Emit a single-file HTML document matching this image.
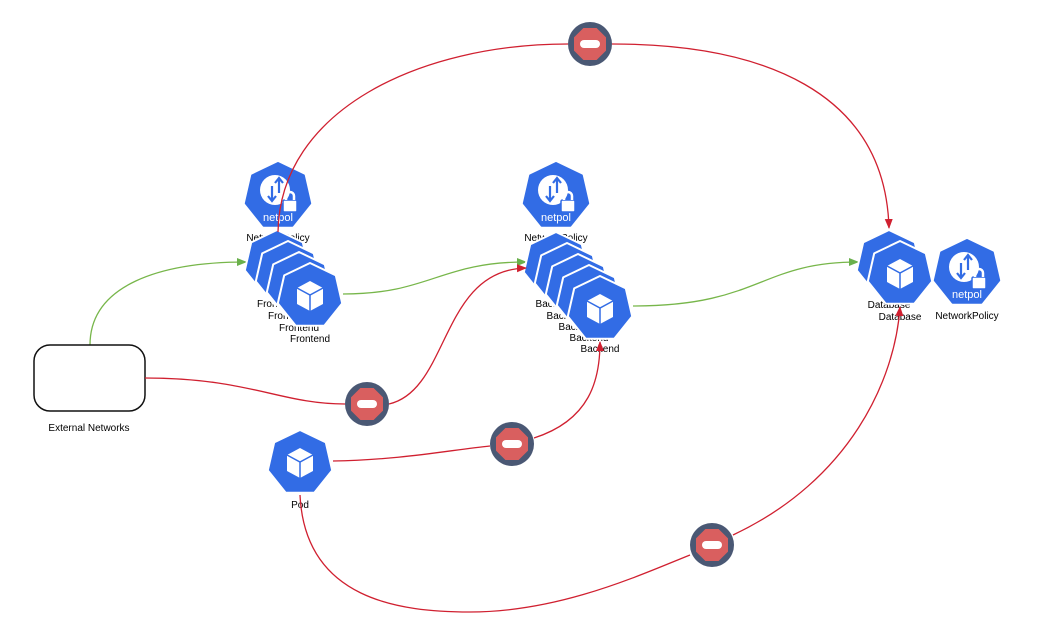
<!DOCTYPE html>
<html><head><meta charset="utf-8"><style>
html,body{margin:0;padding:0;background:#fff;}
svg{display:block;font-family:"Liberation Sans",sans-serif;}
</style></head><body>
<svg width="1040" height="636" viewBox="0 0 1040 636" xmlns="http://www.w3.org/2000/svg">
<defs>
<path id="hex" d="M0,-33 L25.8,-20.6 L32.2,7.4 L14.3,29.7 L-14.3,29.7 L-32.2,7.4 L-25.8,-20.6 Z"/>
<g id="pod">
<use href="#hex" fill="#326ce5" stroke="#fff" stroke-width="2" stroke-linejoin="round"/>
<path d="M0,-15 L13,-8 L13,8 L0,15 L-13,8 L-13,-8 Z" fill="#fff"/>
<path d="M-13,-8 L0,-1 L13,-8 M0,-1 L0,15" stroke="#326ce5" stroke-width="1.5" fill="none"/>
</g>
<g id="np">
<use href="#hex" fill="#326ce5" stroke="#326ce5" stroke-width="2" stroke-linejoin="round"/>
<circle cx="-3" cy="-6" r="15" fill="#fff"/>
<path d="M1,-17 L1,-3 M-3,-13 L1,-18 L5,-13" stroke="#326ce5" stroke-width="2.2" fill="none"/>
<path d="M-6,-10 L-6,4 M-10,0 L-6,5 L-2,0" stroke="#326ce5" stroke-width="2.2" fill="none"/>
<rect x="5" y="4" width="14" height="12" rx="1.5" fill="#fff" stroke="#326ce5" stroke-width="1.5"/>
<path d="M8,4 L8,0 A4,4 0 0 1 16,0 L16,4" stroke="#fff" stroke-width="2.5" fill="none"/>
<text x="0" y="25" fill="#fff" font-size="11" text-anchor="middle">netpol</text>
</g>
<g id="blk">
<circle r="22" fill="#4a5874"/>
<path d="M-6.6,-16 L6.6,-16 L16,-6.6 L16,6.6 L6.6,16 L-6.6,16 L-16,6.6 L-16,-6.6 Z" fill="#d95f5f"/>
<rect x="-10" y="-4" width="20" height="8" rx="4" fill="#fff"/>
</g>
<marker id="ar" markerWidth="10" markerHeight="10" refX="9" refY="5" orient="auto" markerUnits="userSpaceOnUse"><path d="M0,1 L10,5 L0,9 Z" fill="#d02030"/></marker>
<marker id="ag" markerWidth="10" markerHeight="10" refX="9" refY="5" orient="auto" markerUnits="userSpaceOnUse"><path d="M0,1 L10,5 L0,9 Z" fill="#6ab04c"/></marker>
</defs>

<g fill="none" stroke="#77b64a" stroke-width="1.3">
<path d="M90,345 C90,285 160,262 246,262" marker-end="url(#ag)"/>
<path d="M343,294 C430,294 440,262 526,262" marker-end="url(#ag)"/>
<path d="M633,306 C760,306 760,262 858,262" marker-end="url(#ag)"/>
</g>

<rect x="34" y="345" width="111" height="66" rx="16" fill="#fff" stroke="#111" stroke-width="1.5"/>
<text x="89" y="431" font-size="10" text-anchor="middle">External Networks</text>

<use href="#np" x="278" y="196"/>
<text x="278" y="241" font-size="10" text-anchor="middle">NetworkPolicy</text>
<use href="#np" x="556" y="196"/>
<text x="556" y="241" font-size="10" text-anchor="middle">NetworkPolicy</text>
<use href="#np" x="967" y="273"/>
<text x="967" y="319" font-size="10" text-anchor="middle">NetworkPolicy</text>

<g font-size="10" text-anchor="middle">
<use href="#pod" x="277" y="263"/><text x="277" y="307">Frontend</text>
<use href="#pod" x="288" y="274"/><text x="288" y="319">Frontend</text>
<use href="#pod" x="299" y="285"/><text x="299" y="331">Frontend</text>
<use href="#pod" x="310" y="296"/><text x="310" y="342">Frontend</text>

<use href="#pod" x="556" y="265"/><text x="555" y="307">Backend</text>
<use href="#pod" x="567" y="276"/><text x="566" y="319">Backend</text>
<use href="#pod" x="578" y="287"/><text x="578" y="330">Backend</text>
<use href="#pod" x="589" y="298"/><text x="589" y="341">Backend</text>
<use href="#pod" x="600" y="309"/><text x="600" y="352">Backend</text>

<use href="#pod" x="889" y="263"/><text x="889" y="308">Database</text>
<use href="#pod" x="900" y="274"/><text x="900" y="320">Database</text>

<use href="#pod" x="300" y="463"/><text x="300" y="508">Pod</text>
</g>

<g fill="none" stroke="#d02030" stroke-width="1.3">
<path d="M278,232 C280,110 420,44 568,44"/>
<path d="M612,44 C760,44 885,90 889,228" marker-end="url(#ar)"/>
<path d="M145,378 C250,378 280,404 345,404"/>
<path d="M389,404 C450,390 440,270 526,268" marker-end="url(#ar)"/>
<path d="M333,461 C400,460 450,450 490,446"/>
<path d="M534,438 C590,420 600,380 600,342" marker-end="url(#ar)"/>
<path d="M300,495 C305,600 400,612 470,612 C560,612 640,575 690,555"/>
<path d="M733,535 C850,480 895,380 900,307" marker-end="url(#ar)"/>
</g>

<use href="#blk" x="590" y="44"/>
<use href="#blk" x="367" y="404"/>
<use href="#blk" x="512" y="444"/>
<use href="#blk" x="712" y="545"/>
</svg>
</body></html>
